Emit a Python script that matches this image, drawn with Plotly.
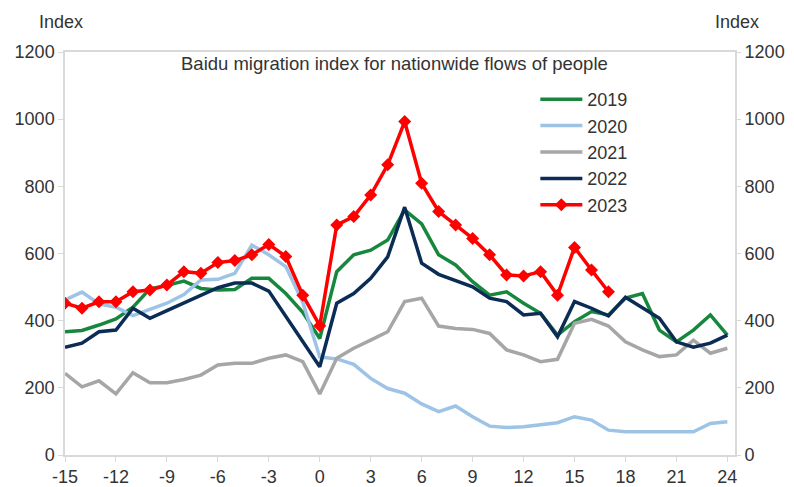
import plotly.graph_objects as go

weeks = list(range(-15, 25))

y2019 = [367, 371, 387, 405, 440, 495, 505, 518, 496, 491, 493, 526, 526, 481, 425, 347,
         546, 596, 610, 640, 730, 688, 596, 566, 516, 476, 486, 452, 422, 357,
         397, 427, 417, 467, 481, 372, 337, 372, 417, 357]
y2020 = [462, 485, 450, 440, 415, 433, 452, 478, 521, 523, 541, 625, 596, 561, 455, 292,
         286, 270, 228, 198, 184, 152, 129, 146, 114, 86, 82, 84, 90, 96,
         114, 104, 74, 69, 69, 69, 69, 69, 94, 99]
y2021 = [243, 203, 221, 182, 245, 215, 215, 225, 238, 268, 273, 273, 288, 298, 278, 182,
         288, 318, 342, 367, 457, 467, 384, 377, 374, 362, 313, 298, 278, 285,
         392, 404, 384, 337, 313, 293, 298, 342, 303, 318]
y2022 = [321, 333, 367, 372, 437, 407, 430, 452, 476, 498, 512, 512, 488, 412, 338, 263,
         452, 481, 526, 590, 738, 571, 538, 519, 501, 467, 457, 417, 422, 352,
         457, 437, 414, 470, 437, 407, 337, 321, 333, 357]
y2023 = [452, 437, 456, 456, 486, 491, 506, 546, 541, 573, 579, 596, 627, 591, 476, 385,
         685, 710, 774, 864, 993, 809, 725, 685, 645, 596, 536, 533, 546, 476,
         618, 551, 486]

series = [
    ("2019", y2019, "#16873d"),
    ("2020", y2020, "#9dc3e6"),
    ("2021", y2021, "#a6a6a6"),
    ("2022", y2022, "#0b2c55"),
]

x_ticks = list(range(-15, 25, 3))
x_tick_labels = ["-15", "-12", "-9", "-6", "-3", "0", "3", "6", "9", "12", "15", "18", "21", "24"]
y_ticks = list(range(0, 1201, 200))

FONT = "Liberation Sans, Arial, sans-serif"
TXT = "#333333"
AX = "#d9d9d9"

fig = go.Figure()
for name, ys, col in series:
    fig.add_trace(go.Scatter(x=weeks[:len(ys)], y=ys, name=name, mode="lines",
                             line=dict(color=col, width=3.5)))
fig.add_trace(go.Scatter(x=weeks[:len(y2023)], y=y2023, name="2023", mode="lines+markers",
                         line=dict(color="#ff0000", width=3.5),
                         marker=dict(symbol="diamond", size=10, color="#ff0000")))
# invisible trace to anchor right axis
fig.add_trace(go.Scatter(x=weeks, y=y2019, yaxis="y2", showlegend=False,
                         mode="lines", line=dict(width=0), hoverinfo="skip", opacity=0))

fig.update_layout(
    width=794, height=487,
    margin=dict(l=65, r=59, t=52, b=32),
    paper_bgcolor="white", plot_bgcolor="white",
    font=dict(family=FONT, size=18, color=TXT),
    showlegend=True,
    legend=dict(x=0.702, y=0.928, xanchor="left", yanchor="top",
                bgcolor="rgba(0,0,0,0)", font=dict(size=18, color=TXT),
                tracegroupgap=0, itemwidth=42),
    xaxis=dict(range=[-15, 24.45], tickvals=x_ticks, ticktext=x_tick_labels,
               ticks="outside", ticklen=5,
               tickcolor=AX, showline=True, linecolor=AX, linewidth=1.5, mirror=True,
               showgrid=False, zeroline=False, automargin=False,
               tickfont=dict(size=18, color=TXT)),
    yaxis=dict(range=[0, 1200], tickvals=y_ticks, ticks="outside", ticklen=5,
               tickcolor=AX, showline=True, linecolor=AX, linewidth=1.5, mirror=True,
               showgrid=False, zeroline=False, automargin=False,
               tickfont=dict(size=18, color=TXT)),
    yaxis2=dict(range=[0, 1200], tickvals=y_ticks, ticks="outside", ticklen=5,
                tickcolor=AX, overlaying="y", side="right", showline=False,
                showgrid=False, zeroline=False, automargin=False,
                tickfont=dict(size=18, color=TXT)),
    annotations=[
        dict(text="Index", xref="paper", yref="paper", x=-0.0067, y=1.0744,
             xanchor="center", yanchor="middle",
             showarrow=False, font=dict(size=18, color=TXT)),
        dict(text="Index", xref="paper", yref="paper", x=1.0037, y=1.0744,
             xanchor="center", yanchor="middle",
             showarrow=False, font=dict(size=18, color=TXT)),
        dict(text="Baidu migration index for nationwide flows of people",
             xref="paper", yref="paper", x=0.4925, y=0.9727, showarrow=False,
             xanchor="center", yanchor="middle",
             font=dict(size=18.5, color=TXT)),
    ],
)

fig.write_html("out.html", config={"displayModeBar": False},
               post_script="document.body.style.margin='0';")
